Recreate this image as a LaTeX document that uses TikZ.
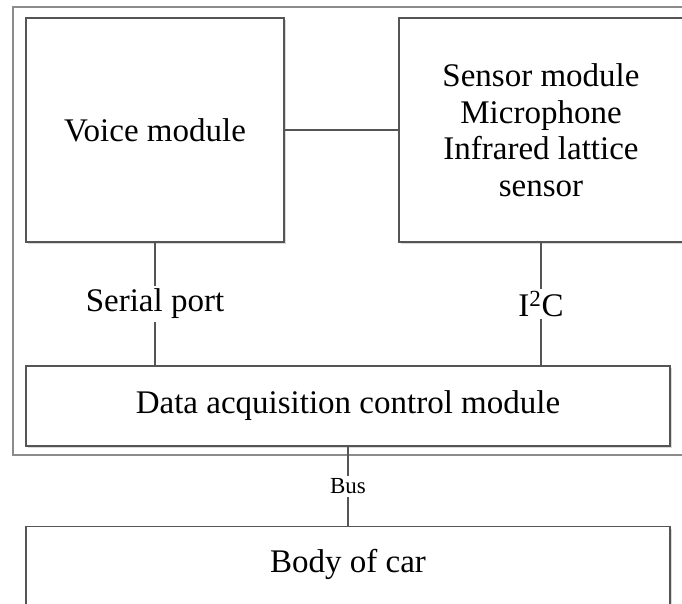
\documentclass[tikz,border=0pt]{standalone}
\usepackage{fontspec}
\setmainfont{Liberation Serif}
\usepackage{tikz}
\usetikzlibrary{shadows}
\definecolor{edgegray}{RGB}{85,85,85}
\definecolor{framegray}{RGB}{140,140,140}

\begin{document}
\begin{tikzpicture}[x=1pt, y=-1pt, line width=1.1pt,
  every node/.style={font=\fontsize{33}{36.5}\selectfont},
  modbox/.style={draw=edgegray, fill=white, rectangle, inner sep=0pt, align=center,
    drop shadow={shadow xshift=2pt, shadow yshift=-2pt, fill=black!15, opacity=1}},
  portlabel/.style={fill=white, inner sep=3pt},
  wire/.style={draw=edgegray}]
\clip (0,0) rectangle (682,603);
\draw[framegray, fill=white] (13,7) rectangle (700,455);
\node[modbox, minimum width=258pt, minimum height=224pt] (voice) at (155,130) {Voice module};
\node[modbox, minimum width=284pt, minimum height=224pt] (sensor) at (541,130) {Sensor module\\Microphone\\Infrared lattice\\sensor};
\node[modbox, minimum width=644pt, minimum height=80pt] (daq) at (348,406) {Data acquisition control module};
\node[modbox, anchor=north, minimum width=644pt, inner ysep=24pt, text height=22pt, text depth=100pt] (body) at (348,526) {Body of car};
\draw[wire] (voice) -- (sensor);
\draw[wire] (voice.south) -- (voice.south |- daq.north) node[midway, portlabel] {Serial port};
\draw[wire] (sensor.south) -- (sensor.south |- daq.north) node[midway, portlabel] {I\textsuperscript{2}C};
\draw[wire] (daq.south) -- (body.north) node[midway, portlabel, font=\fontsize{23}{26}\selectfont] {Bus};
\end{tikzpicture}
\end{document}
